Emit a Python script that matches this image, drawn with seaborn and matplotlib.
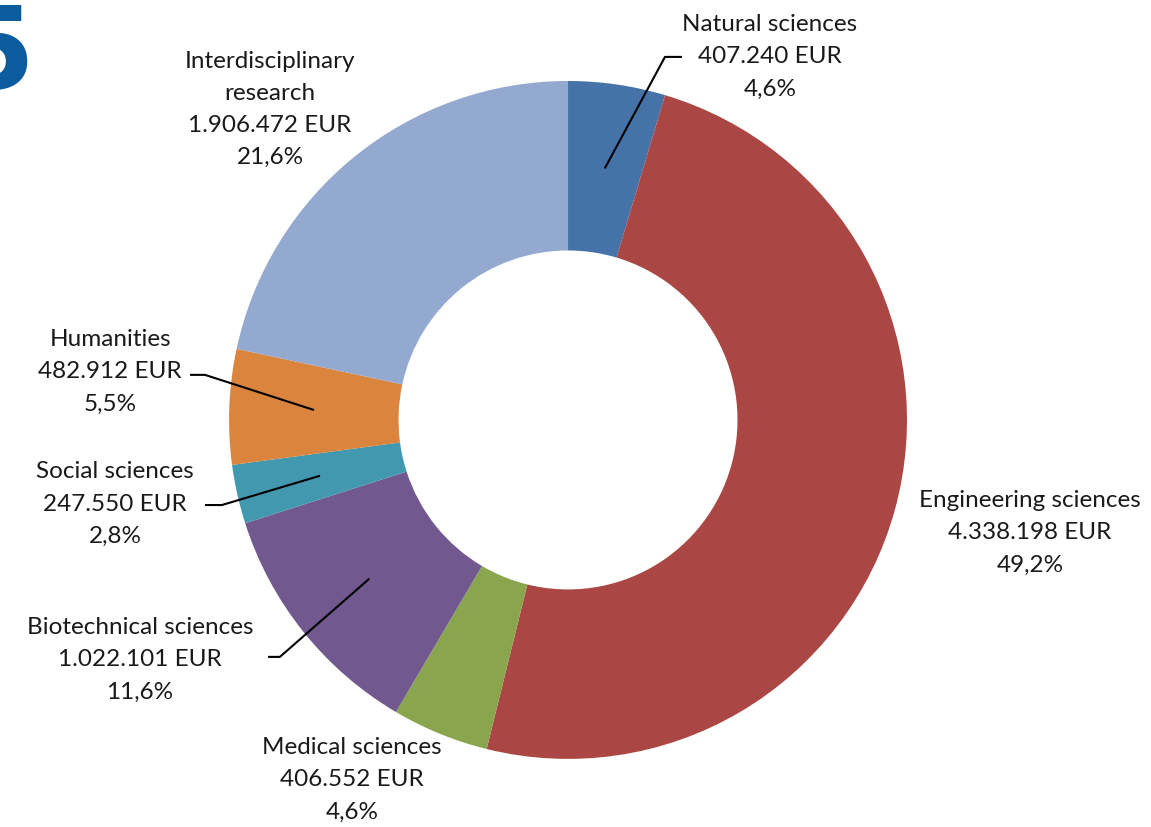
import numpy as np
import matplotlib
matplotlib.use("Agg")
import matplotlib.pyplot as plt
import seaborn as sns

sns.set_theme(style="white")
plt.rcParams['font.family'] = ['Lato', 'DejaVu Sans']

# Data
categories = ["Natural sciences", "Engineering sciences", "Medical sciences",
              "Biotechnical sciences", "Social sciences", "Humanities",
              "Interdisciplinary\nresearch"]
amounts_eur = [407240, 4338198, 406552, 1022101, 247550, 482912, 1906472]
colors = ["#4572A7", "#AA4643", "#89A54E", "#71588F", "#4198AF", "#DB843D", "#93A9CF"]

# label layout (data coords, pie radius = 1): centre of text block
label_pos = [(0.596, 1.071), (1.363, -0.333), (-0.637, -1.062), (-1.263, -0.708),
             (-1.336, -0.248), (-1.351, 0.142), (-0.879, 0.917)]
# leader lines: (elbow_x, elbow_y, end_x) or None
leaders = [(0.286, 1.071, 0.336), None, None, (-0.850, -0.699, -0.885),
           (-1.021, -0.251, -1.071), (-1.071, 0.133, -1.115), None]


def fmt_eur(v):
    return f"{v:,}".replace(",", ".") + " EUR"


def fmt_pct(p):
    return f"{p:.1f}".replace(".", ",") + "%"


fig = plt.figure(figsize=(11.51, 8.27), dpi=100)
ax = fig.add_axes([0.199, 0.0822, 0.589, 0.820])

wedges, _ = ax.pie(amounts_eur, colors=colors, startangle=90, counterclock=False,
                   radius=1.0, wedgeprops=dict(width=0.5, linewidth=0))
ax.set_xlim(-1, 1)
ax.set_ylim(-1, 1)
ax.set_aspect('equal')
ax.axis('off')

total = sum(amounts_eur)
for i, (w, cat, v) in enumerate(zip(wedges, categories, amounts_eur)):
    pct = v / total * 100
    lx, ly = label_pos[i]
    txt = f"{cat}\n{fmt_eur(v)}\n{fmt_pct(pct)}"
    ax.text(lx, ly, txt, ha='center', va='center', fontsize=17.5,
            color='#1a1a1a', linespacing=1.65, clip_on=False)
    if leaders[i] is not None:
        mid = np.deg2rad((w.theta1 + w.theta2) / 2)
        ax_, ay_ = 0.75 * np.cos(mid), 0.75 * np.sin(mid)
        ex, ey, endx = leaders[i]
        ax.plot([ax_, ex, endx], [ay_, ey, ey], color='black', lw=1.5,
                clip_on=False, solid_capstyle='butt')

# cropped chapter number in the corner
fig.text(35 / 1151, 1 - 88 / 827, "5", ha='right', va='baseline',
         fontsize=82, fontweight='bold', color='#0B5C9E',
         family=['DejaVu Sans'])

fig.savefig("out.png", dpi=100)
